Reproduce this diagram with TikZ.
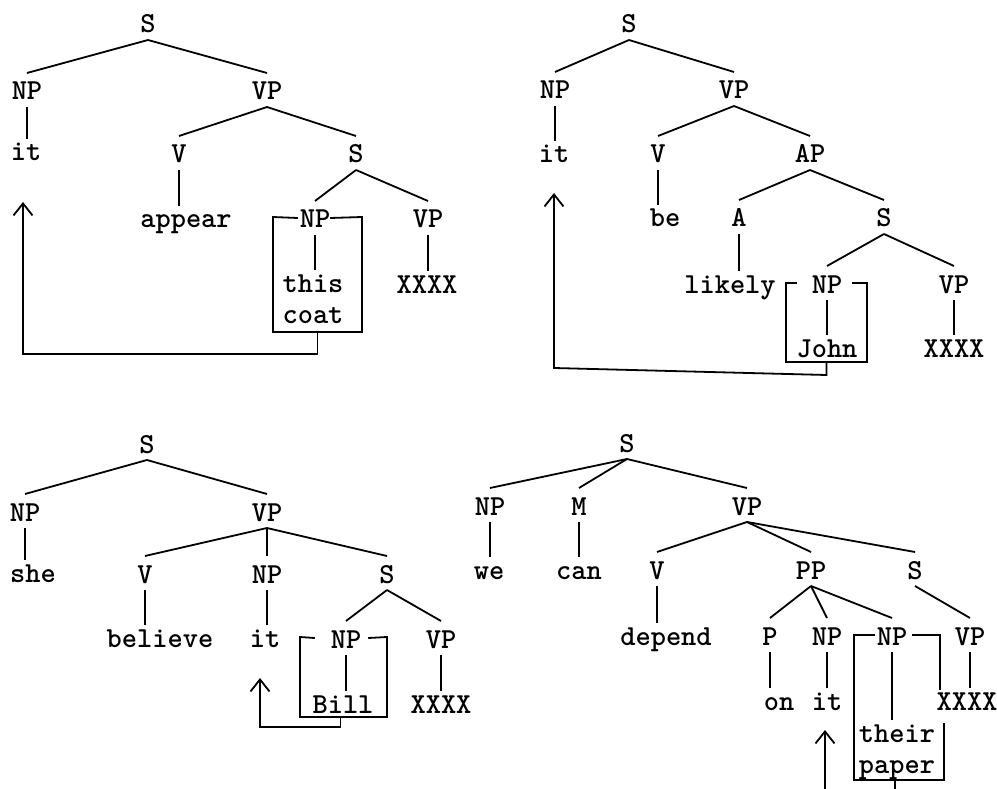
\documentclass[tikz,border=0pt]{standalone}
\usetikzlibrary{arrows.meta}
\newcommand\treefont{\fontsize{29}{34}\selectfont\ttfamily\bfseries}
\tikzset{
  lab/.style={font=\treefont, anchor=base, inner sep=0pt, outer xsep=0pt, outer ysep=7pt, text height=20pt, text depth=0pt},
  wd/.style={font=\treefont, anchor=base, inner sep=0pt, outer xsep=0pt, outer ysep=7pt, text height=15pt, text depth=0pt},
  bx/.style={rectangle, inner sep=0pt, outer sep=0pt},
  arr/.style={-{Straight Barb[length=12pt,width=19pt]}},
}
\begin{document}
\begin{tikzpicture}[x=1pt,y=-1pt, line width=1.8pt]
\useasboundingbox (0,0) rectangle (997,789);

% ---------- Tree 1 ----------
\node[lab] (t1S) at (148,33) {S};
\node[lab] (t1NP) at (27,100) {NP};
\node[lab] (t1VP) at (267,100) {VP};
\node[wd] (t1it) at (26,161) {it};
\node[lab] (t1V) at (179,163) {V};
\node[lab] (t1S2) at (356,163) {S};
\node[wd] (t1appear) at (186,228) {appear};
\node[lab] (t1NPb) at (315,228) {NP};
\node[lab] (t1VPb) at (428,228) {VP};
\node[wd] (t1this) at (313,292) {this};
\node[wd] (t1coat) at (313,323) {coat};
\node[wd] (t1X) at (427,293) {XXXX};
\node[bx, minimum width=89pt, minimum height=115pt] (t1box) at (317.5,274.5) {};

% ---------- Tree 2 ----------
\node[lab] (t2S) at (629,33) {S};
\node[lab] (t2NP) at (555,99) {NP};
\node[lab] (t2VP) at (734,99) {VP};
\node[wd] (t2it) at (554,163) {it};
\node[lab] (t2V) at (658,163) {V};
\node[lab] (t2AP) at (810,163) {AP};
\node[wd] (t2be) at (665,227) {be};
\node[lab] (t2A) at (739,227) {A};
\node[lab] (t2S2) at (884,227) {S};
\node[wd] (t2likely) at (730,293) {likely};
\node[lab] (t2NPb) at (827,293) {NP};
\node[lab] (t2VPb) at (954,293) {VP};
\node[wd] (t2John) at (827,357) {John};
\node[wd] (t2X) at (954,357) {XXXX};
\node[bx, minimum width=81pt, minimum height=79pt] (t2box) at (826.5,322.5) {};

% ---------- Tree 3 ----------
\node[lab] (t3S) at (147,453) {S};
\node[lab] (t3NP) at (25,521) {NP};
\node[lab] (t3VP) at (267,521) {VP};
\node[wd] (t3she) at (33,582) {she};
\node[lab] (t3V) at (145,583) {V};
\node[lab] (t3NP2) at (267,583) {NP};
\node[lab] (t3S2) at (387,583) {S};
\node[wd] (t3believe) at (160,647) {believe};
\node[wd] (t3it) at (265,647) {it};
\node[lab] (t3NPb) at (346,648) {NP};
\node[lab] (t3VPb) at (441,648) {VP};
\node[wd] (t3Bill) at (343,713) {Bill};
\node[wd] (t3X) at (441,713) {XXXX};
\node[bx, minimum width=87pt, minimum height=80pt] (t3box) at (343.5,677) {};

% ---------- Tree 4 ----------
\node[lab] (t4S) at (627,452) {S};
\node[lab] (t4NP) at (490,515) {NP};
\node[lab] (t4M) at (579,515) {M};
\node[lab] (t4VP) at (747,515) {VP};
\node[wd] (t4we) at (489,579) {we};
\node[wd] (t4can) at (579,579) {can};
\node[lab] (t4V) at (657,579) {V};
\node[lab] (t4PP) at (811,579) {PP};
\node[lab] (t4S2) at (915,579) {S};
\node[wd] (t4depend) at (666,645) {depend};
\node[lab] (t4P) at (770,645) {P};
\node[lab] (t4NPa) at (827,645) {NP};
\node[lab] (t4NPc) at (892,645) {NP};
\node[lab] (t4VPb) at (970,645) {VP};
\node[wd] (t4on) at (779,710) {on};
\node[wd] (t4it) at (827,710) {it};
\node[wd] (t4X) at (967,710) {XXXX};
\node[wd] (t4their) at (897,742) {their};
\node[wd] (t4paper) at (897,773) {paper};
\node[bx, minimum width=90pt, minimum height=145pt] (t4box) at (899,707.5) {};
\coordinate (t4low) at (825,789);

% ---------- branches ----------
\foreach \a/\b in {t1S/t1NP, t1S/t1VP, t1VP/t1V, t1VP/t1S2, t1S2/t1NPb, t1S2/t1VPb,
                   t2S/t2NP, t2S/t2VP, t2VP/t2V, t2VP/t2AP, t2AP/t2A, t2AP/t2S2, t2S2/t2NPb, t2S2/t2VPb,
                   t3S/t3NP, t3S/t3VP, t3VP/t3V, t3VP/t3NP2, t3VP/t3S2, t3S2/t3NPb, t3S2/t3VPb,
                   t4S/t4NP, t4S/t4M, t4S/t4VP, t4VP/t4V, t4VP/t4PP, t4VP/t4S2,
                   t4PP/t4P, t4PP/t4NPa, t4PP/t4NPc, t4S2/t4VPb}
  \draw (\a.south) -- (\b.north);

% ---------- vertical branches ----------
\foreach \a/\b in {t1NP/t1it, t1V/t1appear, t1NPb/t1this, t1VPb/t1X,
                   t2NP/t2it, t2V/t2be, t2A/t2likely, t2NPb/t2John, t2VPb/t2X,
                   t3NP/t3she, t3V/t3believe, t3NP2/t3it, t3NPb/t3Bill, t3VPb/t3X,
                   t4NP/t4we, t4M/t4can, t4V/t4depend, t4P/t4on, t4NPa/t4it, t4NPc/t4their, t4VPb/t4X}
  \draw (\a.south) -- (\a.south |- \b.north);

% ---------- boxes ----------
\draw ([xshift=-2pt]t1NPb.west) -- (t1box.north west) -- (t1box.south west) -- (t1box.south east) -- (t1box.north east) -- (t1NPb.east);
\draw ([xshift=-15pt]t2NPb.west) -- (t2box.north west) -- (t2box.south west) -- (t2box.south east) -- (t2box.north east) -- ([xshift=10pt]t2NPb.east);
\draw ([xshift=-16pt]t3NPb.west) -- (t3box.north west) -- (t3box.south west) -- (t3box.south east) -- (t3box.north east) -- ([xshift=7pt]t3NPb.east);
\draw ([xshift=-2pt]t4NPc.west) -- (t4box.north west) -- (t4box.south west) -- (t4box.south east) -- ++(0,-57);
\draw ([xshift=5pt]t4NPc.east) -- ([xshift=-4pt]t4box.north east) -- ++(0,55);

% ---------- movement arrows ----------
\draw[arr] (t1box.south) -- ++(0,22) -| ([shift={(-3pt,-41pt)}]t1it.base);
\draw[arr] (t2box.south) -- ++(0,13) -- ([shift={(0pt,-205pt)}]t2it.base) -- ([shift={(0pt,-30pt)}]t2it.base);
\draw[arr] ([xshift=-3pt]t3box.south) -- ++(0,10) -| ([shift={(-5pt,-31pt)}]t3it.base);
\draw ([xshift=-4pt]t4box.south) -- ++(0,12);
\draw[arr] (t4low) -- ++(0,-59);
\end{tikzpicture}
\end{document}
